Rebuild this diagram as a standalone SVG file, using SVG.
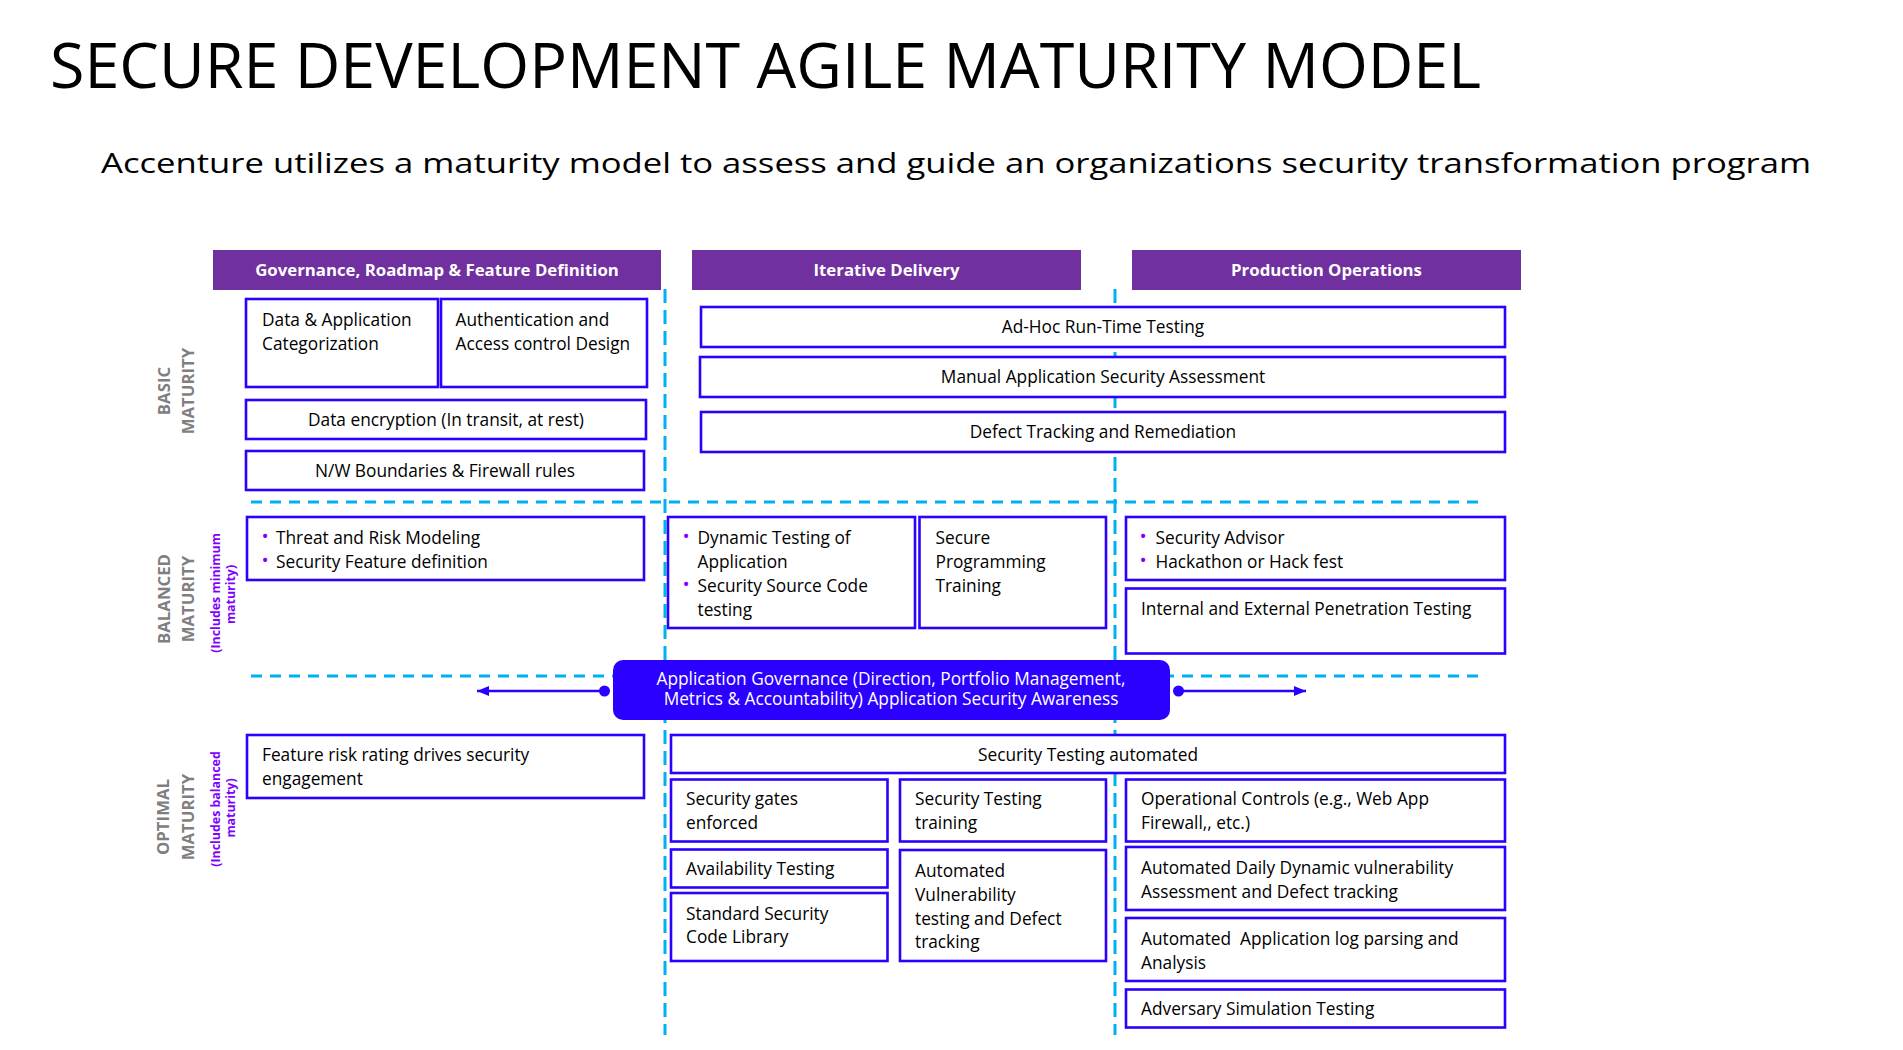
<svg xmlns="http://www.w3.org/2000/svg" width="1903" height="1050" viewBox="0 0 1903 1050">
<style>
.bx{fill:#fff;stroke:#2B00FF;stroke-width:2.6}
.hd{fill:#7030A0}
.ht{font-family:"Open Sans",sans-serif;font-weight:700;font-size:16.8px;fill:#fff;text-anchor:middle}
.t{font-family:"Open Sans",sans-serif;font-size:17.3px;fill:#000}
.tc{font-family:"Open Sans",sans-serif;font-size:17.3px;fill:#000;text-anchor:middle}
.bu{font-family:"Open Sans",sans-serif;font-size:19px;fill:#8000FF;text-anchor:middle}
.gl{font-family:"Open Sans",sans-serif;font-weight:700;font-size:16.8px;fill:#7F7F7F;text-anchor:middle}
.pl{font-family:"Open Sans",sans-serif;font-weight:700;font-size:12.4px;fill:#8000FF;text-anchor:middle}
.dh{stroke:#00B0F0;stroke-width:3;stroke-dasharray:11 8;fill:none}
.dv{stroke:#00B0F0;stroke-width:3;stroke-dasharray:14 7;fill:none}
.ar{stroke:#2B00FF;stroke-width:2.4;fill:none}
</style>
<defs>
<marker id="ah" viewBox="0 0 12 10" refX="12" refY="5" markerWidth="12" markerHeight="10" markerUnits="userSpaceOnUse" orient="auto"><path d="M0,0 L12,5 L0,10 Z" fill="#2B00FF"/></marker>
</defs>
<rect width="1903" height="1050" fill="#fff"/>
<text id="title" x="50" y="88" font-family="Open Sans, sans-serif" font-size="63" fill="#000" textLength="1431" lengthAdjust="spacingAndGlyphs">SECURE DEVELOPMENT AGILE MATURITY MODEL</text>
<text id="subtitle" x="101" y="173" font-family="Open Sans, sans-serif" font-size="27.5" fill="#000" textLength="1710" lengthAdjust="spacingAndGlyphs">Accenture utilizes a maturity model to assess and guide an organizations security transformation program</text>

<g id="connectors">
<line class="dv" x1="665" y1="289" x2="665" y2="1035"/>
<line class="dv" x1="1115" y1="289" x2="1115" y2="1035"/>
<line class="dh" x1="251" y1="502" x2="1483" y2="502"/>
<line class="dh" x1="251" y1="676" x2="1483" y2="676"/>
<line class="ar" x1="604" y1="691" x2="477" y2="691" marker-end="url(#ah)"/>
<circle cx="604.5" cy="691" r="5.5" fill="#2B00FF"/>
<line class="ar" x1="1178.5" y1="691" x2="1306" y2="691" marker-end="url(#ah)"/>
<circle cx="1178.5" cy="691" r="5.5" fill="#2B00FF"/>
</g>

<g id="header-governance"><rect class="hd" x="213" y="250" width="448" height="40"/><text class="ht" x="437" y="275.5">Governance, Roadmap &amp; Feature Definition</text></g>
<g id="header-iterative"><rect class="hd" x="692" y="250" width="389" height="40"/><text class="ht" x="886.5" y="275.5">Iterative Delivery</text></g>
<g id="header-production"><rect class="hd" x="1132" y="250" width="389" height="40"/><text class="ht" x="1326.5" y="275.5">Production Operations</text></g>

<g id="label-basic"><text class="gl" transform="translate(170,391) rotate(-90)">BASIC</text><text class="gl" transform="translate(194,391) rotate(-90)">MATURITY</text></g>
<g id="label-balanced"><text class="gl" transform="translate(170,599) rotate(-90)">BALANCED</text><text class="gl" transform="translate(194,599) rotate(-90)">MATURITY</text><text class="pl" transform="translate(219.5,593) rotate(-90)">(Includes minimum</text><text class="pl" transform="translate(235,594.5) rotate(-90)">maturity)</text></g>
<g id="label-optimal"><text class="gl" transform="translate(169,817) rotate(-90)">OPTIMAL</text><text class="gl" transform="translate(194,817) rotate(-90)">MATURITY</text><text class="pl" transform="translate(219.5,809) rotate(-90)">(Includes balanced</text><text class="pl" transform="translate(235,808) rotate(-90)">maturity)</text></g>

<g id="n-data-app"><rect class="bx" x="246" y="299" width="192" height="88"/><text class="t" x="262" y="326">Data &amp; Application</text><text class="t" x="262" y="350">Categorization</text></g>
<g id="n-auth"><rect class="bx" x="441" y="299" width="206" height="88"/><text class="t" x="455.5" y="326">Authentication and</text><text class="t" x="455.5" y="350">Access control Design</text></g>
<g id="n-encryption"><rect class="bx" x="246" y="400" width="400" height="39"/><text class="tc" x="446" y="426">Data encryption (In transit, at rest)</text></g>
<g id="n-boundaries"><rect class="bx" x="246" y="451" width="398" height="39"/><text class="tc" x="445" y="476.5">N/W Boundaries &amp; Firewall rules</text></g>

<g id="n-adhoc"><rect class="bx" x="701" y="307" width="804" height="40"/><text class="tc" x="1103" y="333">Ad-Hoc Run-Time Testing</text></g>
<g id="n-manual"><rect class="bx" x="700" y="357" width="805" height="40"/><text class="tc" x="1103" y="383">Manual Application Security Assessment</text></g>
<g id="n-defect"><rect class="bx" x="701" y="412" width="804" height="40"/><text class="tc" x="1103" y="437.5">Defect Tracking and Remediation</text></g>

<g id="n-threat"><rect class="bx" x="247" y="517" width="397" height="63"/><text class="bu" x="265" y="543">•</text><text class="bu" x="265" y="567">•</text><text class="t" x="276" y="543.5">Threat and Risk Modeling</text><text class="t" x="276" y="567.5">Security Feature definition</text></g>
<g id="n-dynamic"><rect class="bx" x="668" y="517" width="247" height="111"/><text class="bu" x="686" y="543">•</text><text class="bu" x="686" y="591">•</text><text class="t" x="697.5" y="543.5">Dynamic Testing of</text><text class="t" x="697.5" y="567.5">Application</text><text class="t" x="697.5" y="591.5">Security Source Code</text><text class="t" x="697.5" y="615.5">testing</text></g>
<g id="n-secure-prog"><rect class="bx" x="919.5" y="517" width="186.5" height="111"/><text class="t" x="935.5" y="543.5">Secure</text><text class="t" x="935.5" y="567.5">Programming</text><text class="t" x="935.5" y="591.5">Training</text></g>
<g id="n-advisor"><rect class="bx" x="1126" y="517" width="379" height="63"/><text class="bu" x="1143" y="543">•</text><text class="bu" x="1143" y="567">•</text><text class="t" x="1155.5" y="543.5">Security Advisor</text><text class="t" x="1155.5" y="567.5">Hackathon or Hack fest</text></g>
<g id="n-pentest"><rect class="bx" x="1126" y="588.5" width="379" height="65"/><text class="t" x="1141" y="615">Internal and External Penetration Testing</text></g>

<g id="n-app-governance"><rect x="613" y="660" width="557" height="60" rx="10" fill="#2B00FF"/><text class="tc" x="891" y="684.5" style="fill:#fff">Application Governance (Direction, Portfolio Management,</text><text class="tc" x="891" y="705" style="fill:#fff">Metrics &amp; Accountability) Application Security Awareness</text></g>

<g id="n-feature-risk"><rect class="bx" x="247" y="735" width="397" height="63"/><text class="t" x="262" y="761">Feature risk rating drives security</text><text class="t" x="262" y="784.5">engagement</text></g>
<g id="n-sec-auto"><rect class="bx" x="671" y="735" width="834" height="38"/><text class="tc" x="1088" y="760.5">Security Testing automated</text></g>
<g id="n-gates"><rect class="bx" x="671" y="779.5" width="216.5" height="62"/><text class="t" x="686" y="805">Security gates</text><text class="t" x="686" y="828.5">enforced</text></g>
<g id="n-sec-training"><rect class="bx" x="900" y="779.5" width="206" height="62"/><text class="t" x="915" y="805">Security Testing</text><text class="t" x="915" y="828.5">training</text></g>
<g id="n-availability"><rect class="bx" x="671" y="849.5" width="216.5" height="38"/><text class="t" x="686" y="875">Availability Testing</text></g>
<g id="n-std-lib"><rect class="bx" x="671" y="893" width="216.5" height="68"/><text class="t" x="686" y="919.5">Standard Security</text><text class="t" x="686" y="943">Code Library</text></g>
<g id="n-auto-vuln"><rect class="bx" x="900" y="850" width="206" height="111"/><text class="t" x="915" y="876.5">Automated</text><text class="t" x="915" y="900.5">Vulnerability</text><text class="t" x="915" y="924.5">testing and Defect</text><text class="t" x="915" y="948">tracking</text></g>
<g id="n-op-controls"><rect class="bx" x="1126" y="779.5" width="379" height="62"/><text class="t" x="1141" y="805">Operational Controls (e.g., Web App</text><text class="t" x="1141" y="828.5">Firewall,, etc.)</text></g>
<g id="n-daily-dast"><rect class="bx" x="1126" y="847" width="379" height="63"/><text class="t" x="1141" y="873.5">Automated Daily Dynamic vulnerability</text><text class="t" x="1141" y="897.5">Assessment and Defect tracking</text></g>
<g id="n-log-parsing"><rect class="bx" x="1126" y="918" width="379" height="63"/><text class="t" x="1141" y="944.5" xml:space="preserve">Automated  Application log parsing and</text><text class="t" x="1141" y="968.5">Analysis</text></g>
<g id="n-adversary"><rect class="bx" x="1126" y="989.5" width="379" height="38"/><text class="t" x="1141" y="1015">Adversary Simulation Testing</text></g>
</svg>
